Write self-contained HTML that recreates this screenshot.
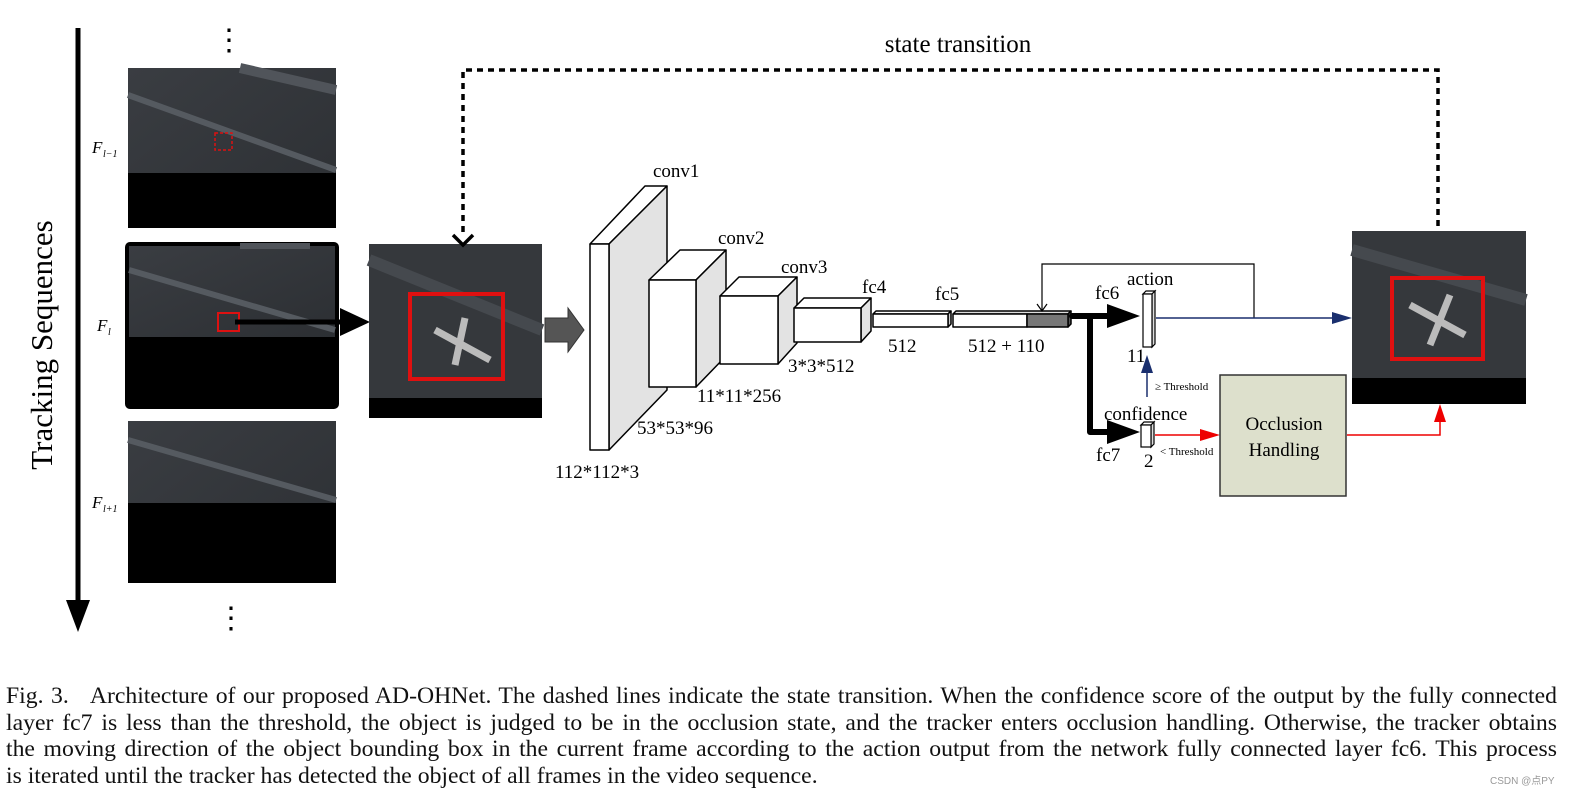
<!DOCTYPE html>
<html><head><meta charset="utf-8"><style>
html,body{margin:0;padding:0}
body{background:#fff;width:1581px;height:800px;overflow:hidden;position:relative;font-family:"Liberation Serif",serif}
.cap{position:absolute;left:6px;width:1551px;font-size:23.7px;line-height:26.7px;top:683px;color:#111}
.cap div{text-align:justify;text-align-last:justify;white-space:nowrap}
.cap div.l{text-align-last:left}
</style></head><body>
<svg width="1581" height="800" style="position:absolute;left:0;top:0" font-family="Liberation Serif, serif">
<defs>
<linearGradient id="sk" x1="0" y1="0" x2="1" y2="1"><stop offset="0" stop-color="#3a3d42"/><stop offset="1" stop-color="#2c2f33"/></linearGradient>
</defs>
<line x1="78" y1="28" x2="78" y2="605" stroke="#000" stroke-width="5"/>
<polygon points="66,600 90,600 78,632" fill="#000"/>
<text transform="translate(52,345) rotate(-90)" font-size="31" text-anchor="middle">Tracking Sequences</text>
<text x="229" y="50" font-size="30" text-anchor="middle">⋮</text>
<text x="231" y="628" font-size="30" text-anchor="middle">⋮</text>
<g>
<rect x="128" y="68" width="208" height="160" fill="url(#sk)"/>
<line x1="128" y1="95" x2="336" y2="170" stroke="#555a60" stroke-width="6"/>
<line x1="240" y1="68" x2="336" y2="90" stroke="#50545a" stroke-width="10"/>
<rect x="128" y="173" width="208" height="55" fill="#000"/>
<rect x="215" y="133" width="17" height="17" fill="none" stroke="#d11" stroke-width="1.5" stroke-dasharray="3,2"/>
<text x="92" y="153" font-size="17" font-style="italic">F</text><text x="103" y="157" font-size="10" font-style="italic">l−1</text>
</g>
<g>
<rect x="125" y="242" width="214" height="167" rx="5" fill="#000"/>
<rect x="129" y="246" width="206" height="91" fill="url(#sk)"/>
<line x1="129" y1="270" x2="335" y2="330" stroke="#555a60" stroke-width="6"/>
<line x1="240" y1="246" x2="310" y2="246" stroke="#50545a" stroke-width="6"/>
<rect x="218" y="313" width="21" height="18" fill="none" stroke="#d11" stroke-width="2"/>
<text x="97" y="331" font-size="17" font-style="italic">F</text><text x="108" y="335" font-size="10" font-style="italic">l</text>
</g>
<g>
<rect x="128" y="421" width="208" height="162" fill="url(#sk)"/>
<line x1="128" y1="440" x2="336" y2="500" stroke="#555a60" stroke-width="6"/>
<rect x="128" y="503" width="208" height="80" fill="#000"/>
<text x="92" y="508" font-size="17" font-style="italic">F</text><text x="103" y="512" font-size="10" font-style="italic">l+1</text>
</g>
<line x1="235" y1="322" x2="345" y2="322" stroke="#000" stroke-width="5"/>
<polygon points="340,308 370,322 340,336" fill="#000"/>
<rect x="369" y="244" width="173" height="174" fill="#35383c"/>
<line x1="369" y1="260" x2="542" y2="330" stroke="#45494e" stroke-width="12"/>
<rect x="369" y="398" width="173" height="20" fill="#000"/>
<rect x="410" y="294" width="93" height="85" fill="none" stroke="#e01010" stroke-width="4"/>
<path d="M435 330 L490 360 M465 318 L455 365" stroke="#bbb" stroke-width="7"/>
<polygon points="545,318 568,318 568,308 584,330 568,352 568,342 545,342" fill="#555" stroke="#333"/>
<g stroke="#000" stroke-width="1.5" stroke-linejoin="round">
<polygon points="590,244 645,186 667,186 609,244" fill="#fff"/>
<polygon points="609,244 667,186 667,390 609,450" fill="#e3e3e3"/>
<rect x="590" y="244" width="19" height="206" fill="#fff"/>
<polygon points="649,280 680,250 726,250 696,280" fill="#fff"/>
<polygon points="696,280 726,250 726,356 696,387" fill="#e3e3e3"/>
<rect x="649" y="280" width="47" height="107" fill="#fff"/>
<polygon points="720,296 739,277 797,277 778,296" fill="#fff"/>
<polygon points="778,296 797,277 797,343 778,364" fill="#e3e3e3"/>
<rect x="720" y="296" width="58" height="68" fill="#fff"/>
<polygon points="794,308 804,298 871,298 861,308" fill="#fff"/>
<polygon points="861,308 871,298 871,331 861,342" fill="#e3e3e3"/>
<rect x="794" y="308" width="67" height="34" fill="#fff"/>
<polygon points="873,314 876,311 951,311 948,314" fill="#fff"/>
<polygon points="948,314 951,311 951,324 948,327" fill="#ccc"/>
<rect x="873" y="314" width="75" height="13" fill="#fff"/>
<polygon points="953,314 956,311 1071,311 1068,314" fill="#ddd"/>
<polygon points="1068,314 1071,311 1071,324 1068,327" fill="#555"/>
<rect x="953" y="314" width="74" height="13" fill="#fff"/>
<rect x="1027" y="314" width="41" height="13" fill="#777"/>
</g>
<g font-size="19">
<text x="653" y="177">conv1</text>
<text x="718" y="244">conv2</text>
<text x="781" y="273">conv3</text>
<text x="862" y="293">fc4</text>
<text x="935" y="300">fc5</text>
<text x="555" y="478">112*112*3</text>
<text x="637" y="434">53*53*96</text>
<text x="697" y="402">11*11*256</text>
<text x="788" y="372">3*3*512</text>
<text x="888" y="352">512</text>
<text x="968" y="352">512 + 110</text>
</g>
<polyline points="1254,318 1254,264 1042,264 1042,311" fill="none" stroke="#000" stroke-width="1.2"/>
<polyline points="1037,304 1042,311 1047,304" fill="none" stroke="#000" stroke-width="1.2"/>
<polyline points="1072,316 1090,316 1090,432 1110,432" fill="none" stroke="#000" stroke-width="6" stroke-linejoin="round" stroke-linecap="round"/>
<line x1="1090" y1="316" x2="1110" y2="316" stroke="#000" stroke-width="6"/>
<polygon points="1107,304 1140,316 1107,328" fill="#000"/>
<polygon points="1107,420 1140,432 1107,444" fill="#000"/>
<g stroke="#000" stroke-width="1.2">
<polygon points="1143,294 1146,291 1155,291 1152,294" fill="#fff"/>
<polygon points="1152,294 1155,291 1155,344 1152,347" fill="#ddd"/>
<rect x="1143" y="294" width="9" height="53" fill="#fff"/>
<polygon points="1141,425 1144,422 1154,422 1151,425" fill="#fff"/>
<polygon points="1151,425 1154,422 1154,444 1151,447" fill="#ddd"/>
<rect x="1141" y="425" width="10" height="22" fill="#fff"/>
</g>
<g font-size="19">
<text x="1127" y="285">action</text>
<text x="1095" y="299">fc6</text>
<text x="1104" y="420">confidence</text>
<text x="1096" y="461">fc7</text>
<text x="1127" y="362">11</text>
<text x="1144" y="467">2</text>
</g>
<text x="1155" y="390" font-size="11">≥ Threshold</text>
<text x="1160" y="455" font-size="11">&lt; Threshold</text>
<line x1="1156" y1="318" x2="1335" y2="318" stroke="#1a2f6e" stroke-width="1.5"/>
<polygon points="1332,312 1352,318 1332,324" fill="#1a2f6e"/>
<line x1="1147" y1="397" x2="1147" y2="370" stroke="#1a2f6e" stroke-width="1.5"/>
<polygon points="1141,373 1147,355 1153,373" fill="#1a2f6e"/>
<line x1="1155" y1="435" x2="1205" y2="435" stroke="#e00" stroke-width="1.5"/>
<polygon points="1200,429 1220,435 1200,441" fill="#e00"/>
<polyline points="1347,435 1440,435 1440,418" fill="none" stroke="#e00" stroke-width="1.5"/>
<polygon points="1434,422 1440,404 1446,422" fill="#e00"/>
<rect x="1220" y="375" width="126" height="121" fill="#dde0cc" stroke="#333" stroke-width="1.5"/>
<text x="1284" y="430" font-size="19" text-anchor="middle">Occlusion</text>
<text x="1284" y="456" font-size="19" text-anchor="middle">Handling</text>
<rect x="1352" y="231" width="174" height="173" fill="#35383c"/>
<line x1="1352" y1="250" x2="1526" y2="300" stroke="#45494e" stroke-width="12"/>
<rect x="1352" y="378" width="174" height="26" fill="#000"/>
<rect x="1392" y="278" width="91" height="81" fill="none" stroke="#e01010" stroke-width="4"/>
<path d="M1410 305 L1465 335 M1450 295 L1430 345" stroke="#bbb" stroke-width="7"/>
<polyline points="463,232 463,70 1438,70 1438,230" fill="none" stroke="#000" stroke-width="3.5" stroke-dasharray="6,5"/>
<polyline points="453,235 463,245 473,235" fill="none" stroke="#000" stroke-width="3.5"/>
<text x="958" y="52" font-size="25" text-anchor="middle">state transition</text>
</svg>
<div class="cap">
<div>Fig. 3.&nbsp;&nbsp; Architecture of our proposed AD-OHNet. The dashed lines indicate the state transition. When the confidence score of the output by the fully connected</div>
<div>layer fc7 is less than the threshold, the object is judged to be in the occlusion state, and the tracker enters occlusion handling. Otherwise, the tracker obtains</div>
<div>the moving direction of the object bounding box in the current frame according to the action output from the network fully connected layer fc6. This process</div>
<div class="l">is iterated until the tracker has detected the object of all frames in the video sequence.</div>
</div>
<div style="position:absolute;left:1490px;top:772px;font-size:10px;color:#999;font-family:'Liberation Sans','Noto Sans CJK SC',sans-serif">CSDN @点PY</div>
</body></html>
